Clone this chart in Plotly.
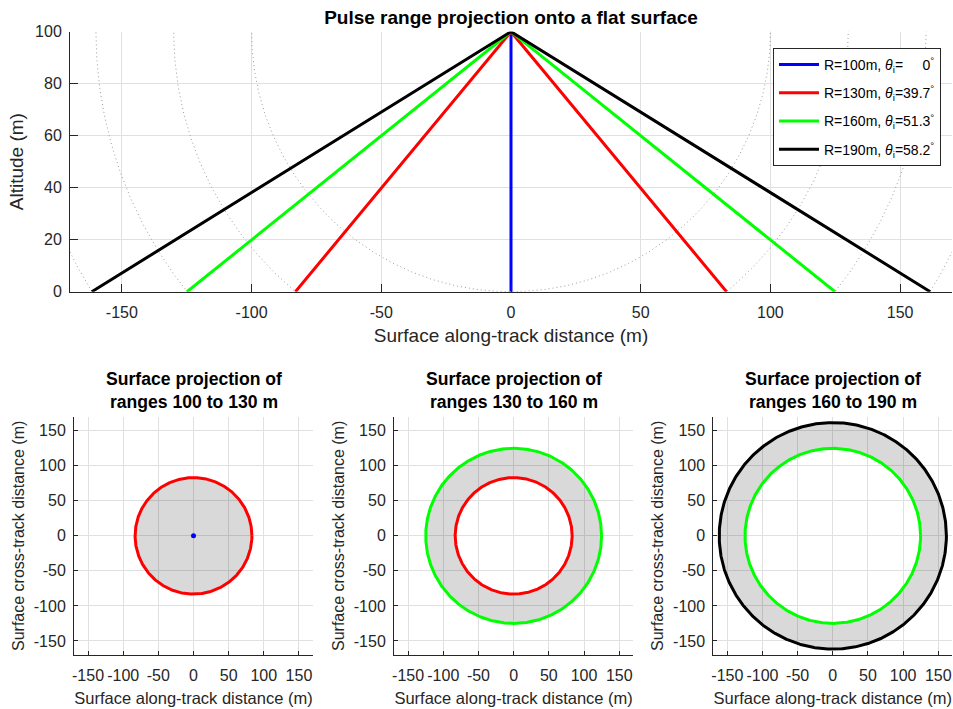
import numpy as np
import plotly.graph_objects as go

# ---- data ----
altitude = 100
slant_ranges = [100, 130, 160, 190]          # m
incidence_deg = [0, 39.7, 51.3, 58.2]        # deg
ground_dist = [0, 83.1, 124.9, 161.6]        # m (surface radius)
colors = ["#0000ff", "#ff0000", "#00ff00", "#000000"]
tick_vals_top_x = [-150, -100, -50, 0, 50, 100, 150]
tick_text_top_x = ["-150", "-100", "-50", "0", "50", "100", "150"]
tick_vals_top_y = [0, 20, 40, 60, 80, 100]
tick_text_top_y = ["0", "20", "40", "60", "80", "100"]
tick_vals_bot = [-150, -100, -50, 0, 50, 100, 150]
tick_text_bot = ["-150", "-100", "-50", "0", "50", "100", "150"]
sub_titles = ["Surface projection of<br>ranges 100 to 130 m",
              "Surface projection of<br>ranges 130 to 160 m",
              "Surface projection of<br>ranges 160 to 190 m"]

W, H = 953, 709
FONT = "Liberation Sans, Arial, sans-serif"
TXT = "#262626"
GRID = "#e0e0e0"

def px(xp):
    return xp / W

def py(yp):
    return 1 - yp / H

fig = go.Figure()
theta = np.linspace(0, 2 * np.pi, 721)

# top panel: dotted range circles
for r in slant_ranges:
    fig.add_trace(go.Scatter(
        x=r * np.cos(theta), y=altitude + r * np.sin(theta),
        mode="lines", line=dict(color="#9c9c9c", width=1, dash="1px,3px"),
        showlegend=False, hoverinfo="skip", xaxis="x", yaxis="y"))

# top panel: range lines
for i, (r, th, g, c) in enumerate(zip(slant_ranges, incidence_deg, ground_dist, colors)):
    ang = "\u00a0\u00a0\u00a0\u00a0\u00a00" if th == 0 else f"{th:.1f}"
    name = f"R={r}m, <i>θ</i><sub>i</sub>={ang}<sup>°</sup>"
    fig.add_trace(go.Scatter(
        x=[-g, 0, g], y=[0, altitude, 0], mode="lines",
        line=dict(color=c, width=3), name=name, legendgroup=f"g{i}",
        xaxis="x", yaxis="y"))

# bottom panels
bot_dom_x = [[px(74), px(313)], [px(394), px(633.3)], [px(713.3), px(952.3)]]
bot_dom_y = [py(655), py(416.7)]
for k in range(3):
    xa = f"x{k + 2}"
    ya = f"y{k + 2}"
    r_in = ground_dist[k]
    r_out = ground_dist[k + 1]
    # annulus (keyhole path)
    xs = np.concatenate([r_out * np.cos(theta), r_in * np.cos(theta[::-1])])
    ys = np.concatenate([r_out * np.sin(theta), r_in * np.sin(theta[::-1])])
    fig.add_trace(go.Scatter(
        x=xs, y=ys, mode="lines", fill="toself",
        fillcolor="rgba(0,0,0,0.15)", line=dict(width=0),
        showlegend=False, hoverinfo="skip", xaxis=xa, yaxis=ya))
    if r_in == 0:
        fig.add_trace(go.Scatter(
            x=[0], y=[0], mode="markers",
            marker=dict(color=colors[k], size=5),
            showlegend=False, xaxis=xa, yaxis=ya))
    else:
        fig.add_trace(go.Scatter(
            x=r_in * np.cos(theta), y=r_in * np.sin(theta), mode="lines",
            line=dict(color=colors[k], width=3),
            showlegend=False, xaxis=xa, yaxis=ya))
    fig.add_trace(go.Scatter(
        x=r_out * np.cos(theta), y=r_out * np.sin(theta), mode="lines",
        line=dict(color=colors[k + 1], width=3),
        showlegend=False, xaxis=xa, yaxis=ya))

def ax_style(**kw):
    d = dict(showgrid=True, gridcolor=GRID, gridwidth=1, zeroline=False,
             showline=True, linecolor=TXT, linewidth=1, mirror=False,
             ticks="inside", tickcolor=TXT, tickwidth=1, tickangle=0,
             tickmode="array",
             tickfont=dict(family=FONT, size=16, color=TXT),
             automargin=False)
    d.update(kw)
    return d

layout = dict(
    width=W, height=H,
    margin=dict(l=0, r=0, t=0, b=0),
    paper_bgcolor="white", plot_bgcolor="white",
    font=dict(family=FONT, color=TXT),
    title=dict(text="<b>Pulse range projection onto a flat surface</b>",
               x=px(511), xanchor="center", y=py(17), yanchor="middle",
               font=dict(family=FONT, size=19, color="#000000")),
    xaxis=ax_style(domain=[px(70), px(952)], range=[-170, 170],
                   tickvals=tick_vals_top_x, ticktext=tick_text_top_x,
                   ticklen=8, ticklabelstandoff=6,
                   title=dict(text="Surface along-track distance (m)", standoff=8,
                              font=dict(family=FONT, size=19, color=TXT)),
                   anchor="y"),
    yaxis=ax_style(domain=[py(291.7), py(31.7)], range=[0, 100],
                   tickvals=tick_vals_top_y, ticktext=tick_text_top_y,
                   ticklen=8, ticklabelstandoff=4,
                   title=dict(text="Altitude (m)", standoff=6,
                              font=dict(family=FONT, size=19, color=TXT)),
                   anchor="x"),
    legend=dict(x=px(773), y=py(48), xanchor="left", yanchor="top",
                bgcolor="white", bordercolor=TXT, borderwidth=1,
                font=dict(family=FONT, size=14, color="#000000"),
                tracegroupgap=7, itemwidth=40),
    annotations=[],
)

for k in range(3):
    layout[f"xaxis{k + 2}"] = ax_style(
        domain=bot_dom_x[k], range=[-170, 170],
        tickvals=tick_vals_bot, ticktext=tick_text_bot,
        ticklen=4, ticklabelstandoff=6, anchor=f"y{k + 2}",
        title=dict(text="Surface along-track distance (m)", standoff=9,
                   font=dict(family=FONT, size=16.5, color=TXT)))
    layout[f"yaxis{k + 2}"] = ax_style(
        domain=bot_dom_y, range=[-170, 170],
        tickvals=tick_vals_bot, ticktext=tick_text_bot,
        ticklen=4, ticklabelstandoff=4, anchor=f"x{k + 2}",
        title=dict(text="Surface cross-track distance (m)", standoff=5,
                   font=dict(family=FONT, size=16, color=TXT)))
    layout["annotations"].append(dict(
        text=f"<b>{sub_titles[k]}</b>", xref="paper", yref="paper",
        x=(bot_dom_x[k][0] + bot_dom_x[k][1]) / 2, y=py(390),
        xanchor="center", yanchor="middle", showarrow=False,
        font=dict(family=FONT, size=17.6, color="#000000")))

fig.update_layout(**layout)
fig.write_html("out.html")
